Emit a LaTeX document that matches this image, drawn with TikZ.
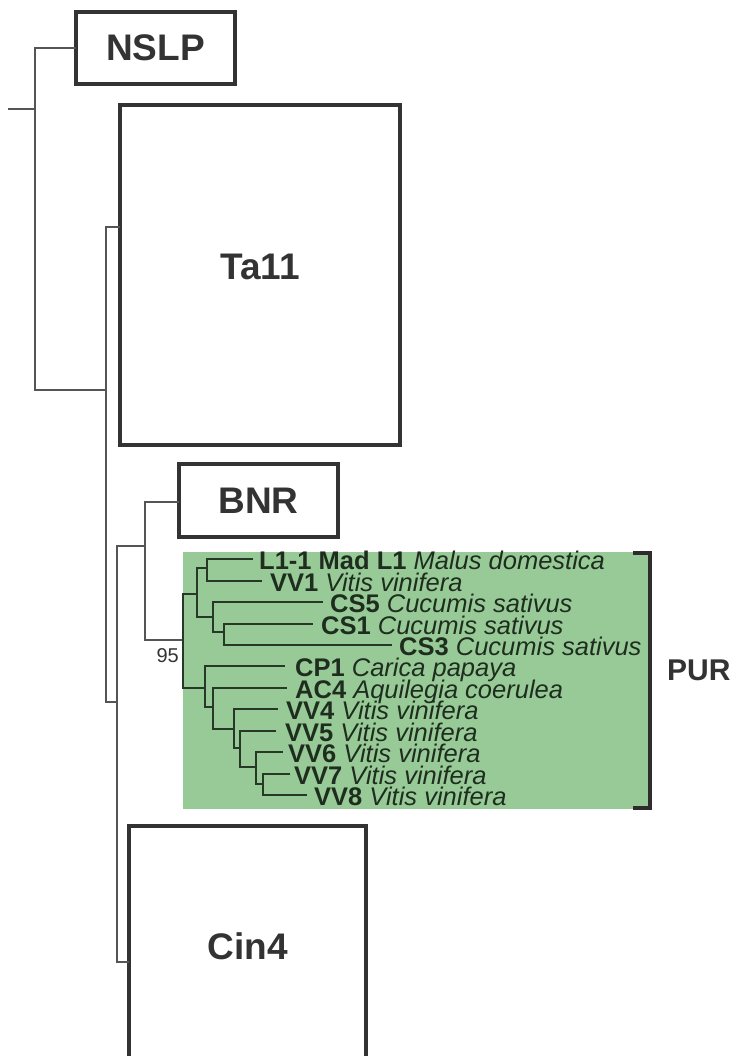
\documentclass[tikz,border=0pt]{standalone}
\usepackage{fontspec}
\setmainfont{Liberation Sans}
\definecolor{greenc}{RGB}{152,202,152}
\definecolor{boxc}{RGB}{51,51,51}
\definecolor{labc}{RGB}{51,51,51}
\definecolor{treec}{RGB}{85,85,85}
\definecolor{purc}{RGB}{40,56,40}
\definecolor{leafc}{RGB}{30,45,30}
\definecolor{brc}{RGB}{45,45,45}
\begin{document}
\begin{tikzpicture}[x=1pt,y=-1pt,
  box/.style={draw=boxc, line width=4.5pt, rectangle, inner sep=0pt, text=labc, font=\fontsize{37}{44}\selectfont\bfseries},
  boxlab/.style={inner sep=0pt, text=labc, font=\fontsize{37}{44}\selectfont\bfseries},
  tl/.style={draw=treec, line width=1.5pt},
  pl/.style={draw=purc, line width=2.1pt},
  leaf/.style={anchor=base west, inner sep=0pt, text=leafc, font=\fontsize{25.5}{30}\selectfont}]
\useasboundingbox (0,0) rectangle (734,1056);
\clip (0,0) rectangle (734,1056);
% green PUR background
\fill[greenc] (183,552) rectangle (651,809);
% boxes
\node[box, minimum width=159pt, minimum height=72pt] (NSLP) at (155.5,48) {NSLP};
\node[box, minimum width=280pt, minimum height=340pt] (Ta11) at (260,275) {};
\node[boxlab] (Ta11lab) at (Ta11) [yshift=8pt] {Ta11};
\node[box, minimum width=159pt, minimum height=73pt] (BNR) at (258.5,500.5) {BNR};
\node[box, minimum width=237pt, minimum height=240pt] (Cin4) at (247.5,946) {Cin4};
% attach points
\coordinate (aN) at (76,48);
\coordinate (aT) at (120,227);
\coordinate (aB) at (179,502);
\coordinate (aC) at (129,962);
% internal nodes
\coordinate (r0) at (8,109);
\coordinate (n0) at (35,109);
\coordinate (n1) at (106,390);
\coordinate (n2) at (117,702);
\coordinate (n3) at (145,546);
\coordinate (R) at (183,640);
\coordinate (A) at (197,594);
\coordinate (A1) at (207,568);
\coordinate (A2) at (213,617);
\coordinate (A3) at (224,632);
\coordinate (B) at (205,688);
\coordinate (B1) at (213,707);
\coordinate (B2) at (234,729);
\coordinate (B3) at (240,748);
\coordinate (B4) at (256,767);
\coordinate (B5) at (263,784);
% leaf ends
\coordinate (l1) at (253,559);
\coordinate (l2) at (262,581);
\coordinate (l3) at (323,602);
\coordinate (l4) at (313,624);
\coordinate (l5) at (392,645);
\coordinate (l6) at (285,666);
\coordinate (l7) at (287,688);
\coordinate (l8) at (278,709);
\coordinate (l9) at (276,731);
\coordinate (l10) at (283,752);
\coordinate (l11) at (290,774);
\coordinate (l12) at (307,795);
% outer tree
\draw[tl] (r0) -- (n0);
\draw[tl] (n0) |- (aN);
\draw[tl] (n0) |- (n1);
\draw[tl] (n1) |- (aT);
\draw[tl] (n1) |- (n2);
\draw[tl] (n2) |- (n3);
\draw[tl] (n2) |- (aC);
\draw[tl] (n3) |- (aB);
\draw[tl] (n3) |- (R);
% PUR tree
\draw[pl] (R) |- (A);
\draw[pl] (R) |- (B);
\draw[pl] (A) |- (A1);
\draw[pl] (A) |- (A2);
\draw[pl] (A1) |- (l1);
\draw[pl] (A1) |- (l2);
\draw[pl] (A2) |- (l3);
\draw[pl] (A2) |- (A3);
\draw[pl] (A3) |- (l4);
\draw[pl] (A3) |- (l5);
\draw[pl] (B) |- (l6);
\draw[pl] (B) |- (B1);
\draw[pl] (B1) |- (l7);
\draw[pl] (B1) |- (B2);
\draw[pl] (B2) |- (l8);
\draw[pl] (B2) |- (B3);
\draw[pl] (B3) |- (l9);
\draw[pl] (B3) |- (B4);
\draw[pl] (B4) |- (l10);
\draw[pl] (B4) |- (B5);
\draw[pl] (B5) |- (l11);
\draw[pl] (B5) |- (l12);
% leaf labels
\node[leaf] (t1) at (259,569) {\textbf{L1-1 Mad L1} \textit{Malus domestica}};
\node[leaf] (t2) at (270,591) {\textbf{VV1} \textit{Vitis vinifera}};
\node[leaf] (t3) at (330,612) {\textbf{CS5} \textit{Cucumis sativus}};
\node[leaf] (t4) at (321,634) {\textbf{CS1} \textit{Cucumis sativus}};
\node[leaf] (t5) at (399,655) {\textbf{CS3} \textit{Cucumis sativus}};
\node[leaf] (t6) at (295,676) {\textbf{CP1} \textit{Carica papaya}};
\node[leaf] (t7) at (295,698) {\textbf{AC4} \textit{Aquilegia coerulea}};
\node[leaf] (t8) at (286,719) {\textbf{VV4} \textit{Vitis vinifera}};
\node[leaf] (t9) at (285,741) {\textbf{VV5} \textit{Vitis vinifera}};
\node[leaf] (t10) at (288,762) {\textbf{VV6} \textit{Vitis vinifera}};
\node[leaf] (t11) at (294,784) {\textbf{VV7} \textit{Vitis vinifera}};
\node[leaf] (t12) at (314,805) {\textbf{VV8} \textit{Vitis vinifera}};
% bootstrap
\node[anchor=base east, inner sep=0pt, text=labc, font=\fontsize{20}{24}\selectfont] (bs) at (179,662) {95};
% bracket and PUR
\coordinate (bt) at (633,553);
\coordinate (bb) at (633,808);
\draw[draw=brc, line width=3.5pt] (bt) -- (650,553) -- (650,808) -- (bb);
\node[anchor=west, inner sep=0pt, text=labc, font=\fontsize{30}{36}\selectfont\bfseries] (PUR) at (667,670) {PUR};
\end{tikzpicture}
\end{document}
